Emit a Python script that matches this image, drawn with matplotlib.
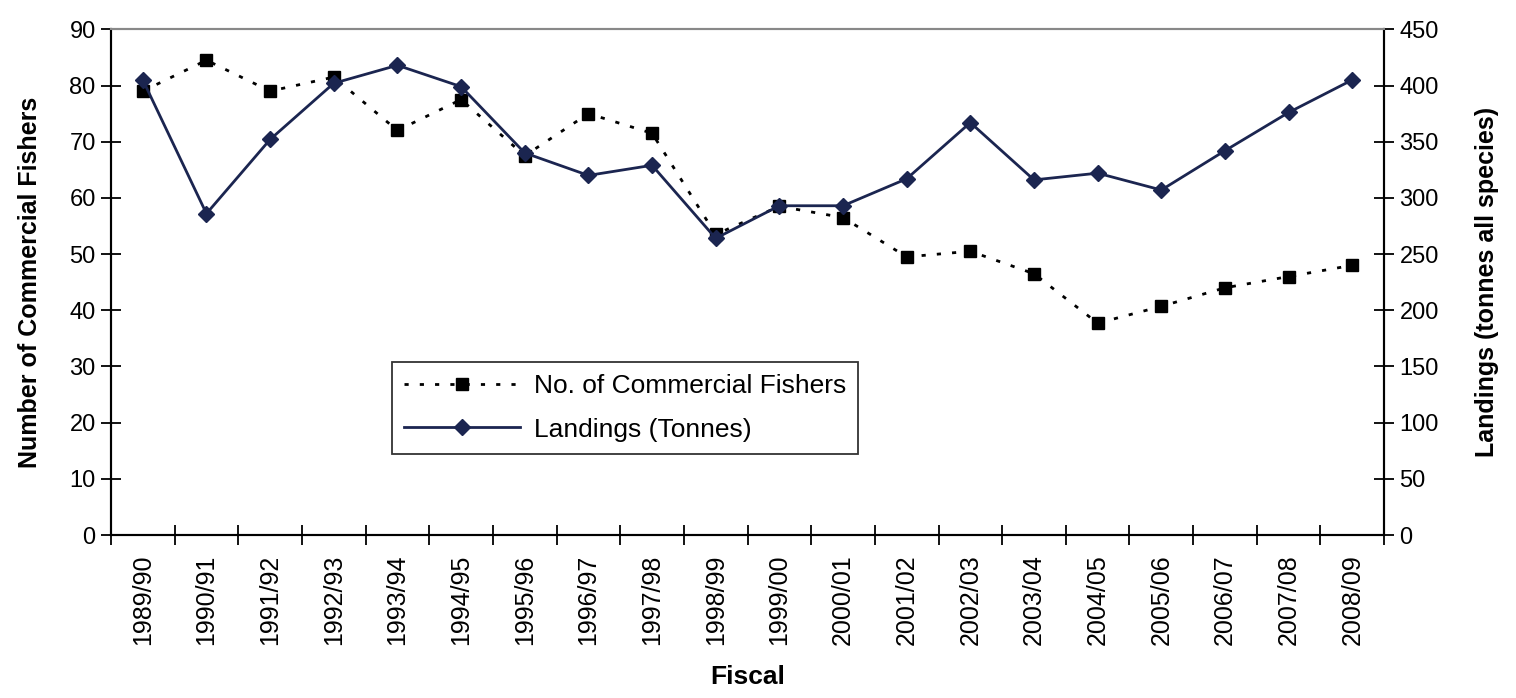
import numpy as np
import matplotlib.pyplot as plt
from matplotlib.ticker import FixedLocator

plt.rcParams['font.family'] = ['Liberation Sans', 'DejaVu Sans']

years = ['1989/90', '1990/91', '1991/92', '1992/93', '1993/94', '1994/95',
         '1995/96', '1996/97', '1997/98', '1998/99', '1999/00', '2000/01',
         '2001/02', '2002/03', '2003/04', '2004/05', '2005/06', '2006/07',
         '2007/08', '2008/09']
fishers = [79, 84.5, 79, 81.5, 72, 77.5, 67.5, 75, 71.5, 53.5, 58.5, 56.5,
           49.5, 50.5, 46.5, 37.7, 40.7, 44, 46, 48]
landings = [405, 286, 352, 402, 418, 399, 340, 320, 329, 264, 293, 293,
            317, 367, 316, 322, 307, 342, 376, 405]

x = np.arange(len(years))

fig = plt.figure(figsize=(15.16, 6.98), dpi=100)
ax = fig.add_axes([0.0732, 0.2335, 0.8398, 0.7245])
ax2 = ax.twinx()

l1, = ax.plot(x, fishers, color='black', linestyle=(0, (1.5, 4)), linewidth=2,
              marker='s', markersize=9, label='No. of Commercial Fishers')
l2, = ax2.plot(x, landings, color='#1b2550', linestyle='-', linewidth=2,
               marker='D', markersize=8.5, label='Landings (Tonnes)')

ax.set_xlim(-0.5, len(years) - 0.5)
ax.set_ylim(0, 90)
ax.set_yticks(np.arange(0, 91, 10))
ax2.set_ylim(0, 450)
ax2.set_yticks(np.arange(0, 451, 50))

# ticks sit between categories, labels centred under points
ax.xaxis.set_major_locator(FixedLocator(np.arange(-0.5, len(years), 1)))
ax.xaxis.set_minor_locator(FixedLocator(x))
ax.set_xticklabels([])
ax.set_xticklabels(years, minor=True, rotation=90, fontsize=18)
ax.tick_params(axis='x', which='major', direction='inout', length=14, width=1.3)
ax.tick_params(axis='x', which='minor', length=0, pad=14)

ax.tick_params(axis='y', direction='inout', length=14, width=1.3,
               labelsize=17, pad=4)
ax2.tick_params(axis='y', direction='inout', length=14, width=1.3,
                labelsize=17, pad=4)

for a in (ax, ax2):
    a.spines['left'].set_linewidth(1.5)
    a.spines['right'].set_linewidth(1.5)
    a.spines['bottom'].set_linewidth(1.5)
    a.spines['top'].set_color('#888888')
    a.spines['top'].set_linestyle((0, (2, 1)))
    a.spines['top'].set_linewidth(1.5)

ax.set_ylabel('Number of Commercial Fishers', fontsize=18, fontweight='bold',
              labelpad=20)
ax2.set_ylabel('Landings (tonnes all species)', fontsize=18, fontweight='bold',
               labelpad=26)
ax.set_xlabel('Fiscal', fontsize=19, fontweight='bold', labelpad=14)

leg = ax.legend(handles=[l1, l2], loc='upper left',
                bbox_to_anchor=(0.221, 0.342), fontsize=19, frameon=True,
                fancybox=False, handlelength=4.4, borderpad=0.45,
                labelspacing=0.75, handletextpad=0.5, borderaxespad=0)
leg.get_frame().set_edgecolor('black')
leg.get_frame().set_linewidth(1.3)

fig.savefig('out.png', dpi=100)
